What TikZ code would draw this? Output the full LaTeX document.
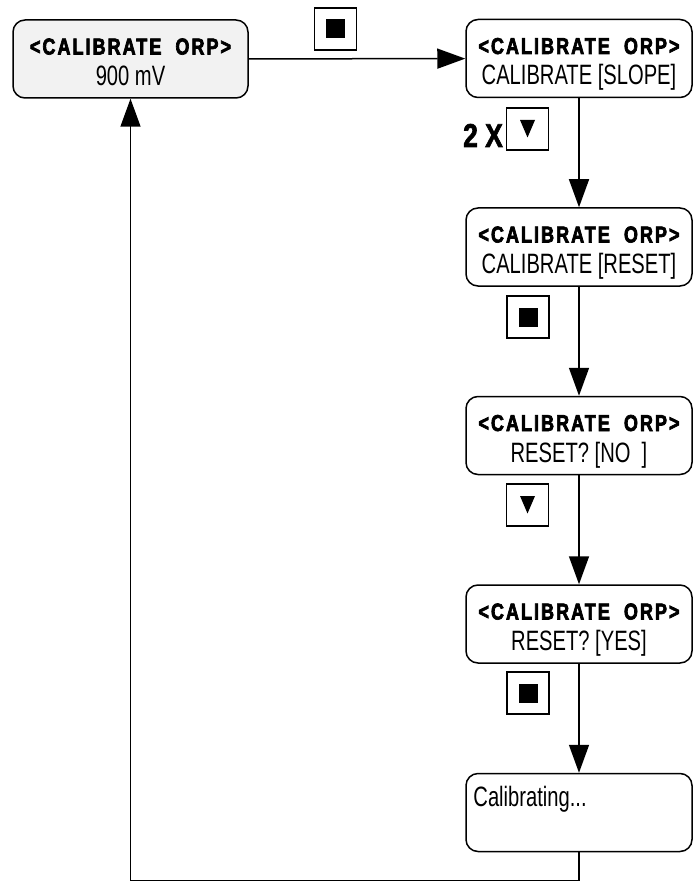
\documentclass[tikz,border=0pt]{standalone}
\usepackage{fontspec}
\setmainfont{Liberation Sans}[FakeStretch=0.72]
\newfontfamily\titelfont{Liberation Sans}[FakeStretch=0.78,LetterSpace=9,FakeBold=3]
\newfontfamily\malfont{Liberation Sans}[FakeStretch=0.8,FakeBold=2]
\newcommand{\titel}{{\titelfont\bfseries\fontsize{23}{26}\selectfont <CALIBRATE\ \ ORP>}\rule{0pt}{28.5pt}}
\newcommand{\zeile}[1]{#1\rule[-6.5pt]{0pt}{0pt}}
\usetikzlibrary{positioning, arrows.meta}
\tikzstyle{anzeige} = [draw, line width=1.5pt, rounded corners=12pt, minimum width=226pt, minimum height=78pt, inner sep=0pt, align=center, font=\fontsize{28}{31}\selectfont]
\tikzstyle{taste} = [draw, line width=1.5pt, minimum size=42pt, inner sep=0pt]
\tikzstyle{pfeil} = [line width=1.5pt, -{Triangle[length=28pt,width=20pt]}]

\begin{document}
\begin{tikzpicture}[x=1pt, y=-1pt, node distance=109pt]
	\useasboundingbox (0,0) rectangle (693,882);
	% Anzeigen
	\node [anzeige, fill=gray!10, minimum width=235pt] (start) at (130.5,59) {\titel\\\zeile{900 mV}};
	\node [anzeige] (slope) at (579,58.5) {\titel\\\zeile{CALIBRATE [SLOPE]}};
	\node [anzeige, below=of slope] (reset) {\titel\\\zeile{CALIBRATE [RESET]}};
	\node [anzeige, below=of reset] (nein) {\titel\\\zeile{RESET? [NO\ \ ]}};
	\node [anzeige, below=of nein] (ja) {\titel\\\zeile{RESET? [YES]}};
	\node [anzeige, below=of ja] (kalib) {};
	\node [font=\fontsize{28}{29}\selectfont, anchor=base west, inner sep=0pt] (kalibtext) at ([xshift=8pt, yshift=-34pt]kalib.north west) {Calibrating...};
	% Tasten
	\node [taste] (t1) at (335.5,29) {\rule{19pt}{19pt}};
	\node [taste] (t2) at (527.5,129) {};
	\fill (t2.center) ++(-7.5,-9) -- ++(15,0) -- ++(-7.5,17.5) -- cycle;
	\node [font=\malfont\bfseries\fontsize{33}{36}\selectfont, anchor=base east, inner sep=0pt] (mal) at (503,147) {2 X};
	\node [taste] (t3) at (528,317) {\rule{19pt}{19pt}};
	\node [taste] (t4) at (527.5,505) {};
	\fill (t4.center) ++(-7.5,-9) -- ++(15,0) -- ++(-7.5,17.5) -- cycle;
	\node [taste] (t5) at (528,693) {\rule{19pt}{19pt}};
	% Pfeile
	\draw [pfeil] (start) -- (slope);
	\draw [pfeil] (slope) -- (reset);
	\draw [pfeil] (reset) -- (nein);
	\draw [pfeil] (nein) -- (ja);
	\draw [pfeil] (ja) -- (kalib);
	\draw [pfeil] (kalib.south) -- ++(0,28) -| (start.south);
\end{tikzpicture}
\end{document}
